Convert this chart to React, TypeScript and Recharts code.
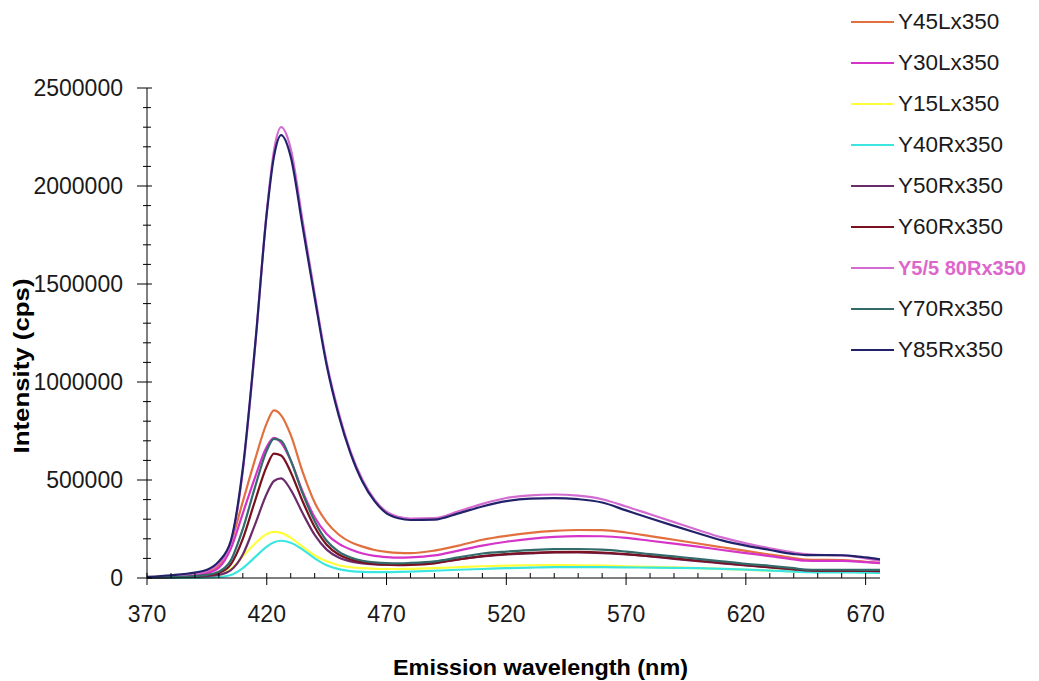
import React from "react";
import { LineChart, Line, XAxis, YAxis } from "recharts";

// emission wavelength (nm), finer steps around the 425 nm peak
const wavelengths = [
  370, 380, 390, 395, 400, 405, 410, 415, 420, 423, 426, 430, 435, 440, 445,
  450, 455, 460, 465, 470, 475, 480, 490, 500, 510, 520, 530, 540, 550, 560,
  570, 580, 590, 600, 610, 620, 630, 640, 645, 650, 655, 660, 665, 670, 676,
];

const y45L = [
  3000, 7000, 16000, 28000, 62000, 180000, 390000, 600000, 790000, 855000, 830000, 730000, 540000, 385000, 285000,
  222000, 183000, 160000, 143000, 133000, 128000, 127000, 140000, 165000, 195000, 215000, 230000, 240000, 245000, 244000,
  232000, 214000, 195000, 176000, 157000, 138000, 120000, 102000, 94000, 92000, 92000, 91000, 88000, 83000, 77000,
];
const y30L = [
  3000, 6000, 14000, 24000, 52000, 150000, 330000, 510000, 670000, 715000, 690000, 600000, 440000, 310000, 225000,
  175000, 145000, 125000, 113000, 107000, 104000, 105000, 115000, 140000, 165000, 185000, 200000, 210000, 214000, 213000,
  205000, 190000, 175000, 160000, 143000, 127000, 112000, 95000, 88000, 87000, 87000, 87000, 85000, 81000, 76000,
];
const y15L = [
  1000, 2000, 4000, 6000, 14000, 45000, 110000, 175000, 225000, 235000, 230000, 205000, 160000, 115000, 85000,
  65000, 55000, 50000, 47000, 46000, 46000, 47000, 50000, 55000, 60000, 63000, 65000, 66000, 65000, 63000,
  60000, 57000, 54000, 50000, 46000, 42000, 38000, 34000, 32000, 31000, 31000, 31000, 31000, 30000, 29000,
];
const y40R = [
  0, 1000, 2000, 3000, 5000, 15000, 50000, 105000, 160000, 182000, 190000, 180000, 145000, 100000, 65000,
  45000, 35000, 31000, 30000, 30000, 31000, 33000, 37000, 42000, 46000, 50000, 53000, 55000, 55000, 55000,
  54000, 53000, 52000, 50000, 47000, 43000, 38000, 33000, 30000, 28000, 28000, 28000, 28000, 27000, 26000,
];
const y50R = [
  2000, 4000, 7000, 10000, 16000, 40000, 120000, 270000, 430000, 495000, 508000, 450000, 330000, 220000, 145000,
  105000, 85000, 75000, 70000, 68000, 68000, 70000, 78000, 95000, 110000, 120000, 126000, 130000, 130000, 127000,
  120000, 110000, 98000, 86000, 75000, 64000, 54000, 44000, 39000, 37000, 37000, 37000, 37000, 36000, 35000,
];
const y60R = [
  2000, 4000, 9000, 14000, 26000, 70000, 200000, 390000, 570000, 635000, 625000, 540000, 390000, 260000, 170000,
  120000, 95000, 80000, 72000, 68000, 66000, 67000, 75000, 95000, 112000, 122000, 128000, 132000, 133000, 130000,
  122000, 112000, 100000, 88000, 77000, 65000, 55000, 45000, 40000, 38000, 38000, 38000, 38000, 37000, 36000,
];
const y5580R = [
  4000, 10000, 22000, 36000, 75000, 180000, 545000, 1160000, 1870000, 2180000, 2300000, 2190000, 1820000, 1450000, 1100000,
  845000, 645000, 500000, 400000, 338000, 312000, 303000, 305000, 340000, 378000, 408000, 422000, 426000, 420000, 402000,
  365000, 325000, 285000, 245000, 207000, 177000, 152000, 130000, 122000, 118000, 117000, 115000, 110000, 100000, 88000,
];
const y70R = [
  2000, 5000, 10000, 16000, 32000, 90000, 250000, 460000, 650000, 710000, 700000, 600000, 430000, 290000, 190000,
  135000, 105000, 88000, 80000, 76000, 75000, 77000, 85000, 105000, 125000, 135000, 142000, 147000, 148000, 145000,
  135000, 122000, 110000, 98000, 85000, 72000, 62000, 50000, 43000, 42000, 42000, 42000, 42000, 41000, 41000,
];
const y85R = [
  6000, 14000, 28000, 42000, 85000, 190000, 560000, 1170000, 1860000, 2150000, 2260000, 2150000, 1790000, 1430000, 1085000,
  830000, 635000, 490000, 392000, 330000, 305000, 296000, 298000, 330000, 365000, 392000, 405000, 408000, 402000, 385000,
  345000, 305000, 266000, 228000, 192000, 165000, 143000, 122000, 117000, 117000, 117000, 116000, 112000, 105000, 95000,
];

const seriesNames = [
  "Y45Lx350", "Y30Lx350", "Y15Lx350", "Y40Rx350", "Y50Rx350",
  "Y60Rx350", "Y5/5 80Rx350", "Y70Rx350", "Y85Rx350",
];
const seriesColors = [
  "#E2703E", "#D633C8", "#FFFF3A", "#3CE6E0", "#6B2C6B",
  "#7A1020", "#D46BD0", "#336B6B", "#22226B",
];
const seriesValues = [y45L, y30L, y15L, y40R, y50R, y60R, y5580R, y70R, y85R];

const xTicks = [
  370, 380, 390, 400, 410, 420, 430, 440, 450, 460, 470, 480, 490, 500, 510, 520,
  530, 540, 550, 560, 570, 580, 590, 600, 610, 620, 630, 640, 650, 660, 670,
];
const xMajorTicks = [370, 420, 470, 520, 570, 620, 670];
const yMajorTicks = [0, 500000, 1000000, 1500000, 2000000, 2500000];
const yTicks = [
  0, 100000, 200000, 300000, 400000, 500000, 600000, 700000, 800000, 900000,
  1000000, 1100000, 1200000, 1300000, 1400000, 1500000, 1600000, 1700000, 1800000, 1900000,
  2000000, 2100000, 2200000, 2300000, 2400000, 2500000,
];

const rows = wavelengths.map((wl, i) => {
  const row: Record<string, number> = { wl };
  seriesValues.forEach((vals, s) => {
    row["s" + s] = vals[i];
  });
  return row;
});

const FONT = "'Liberation Sans', Arial, sans-serif";
const INK = "#1a1a1a";

function XTick({ x, y, payload }: any) {
  const major = xMajorTicks.includes(payload.value);
  return (
    <g>
      <line x1={x} x2={x} y1={y - 5} y2={y + (major ? 7 : 0)} stroke="#000" />
      {major && (
        <text x={x} y={y + 44} textAnchor="middle" fontSize={23} fill={INK} fontFamily={FONT}>
          {payload.value}
        </text>
      )}
    </g>
  );
}

function YTick({ x, y, payload }: any) {
  const major = yMajorTicks.includes(payload.value);
  return (
    <g>
      <line x1={x - (major ? 10 : 4)} x2={x + (major ? 5 : 4)} y1={y} y2={y} stroke="#000" />
      {major && (
        <text x={x - 24} y={y} dy="0.36em" textAnchor="end" fontSize={23} fill={INK} fontFamily={FONT}>
          {payload.value}
        </text>
      )}
    </g>
  );
}

function XTitle({ viewBox }: any) {
  return (
    <text
      x={viewBox.x + viewBox.width / 2 + 27}
      y={675}
      textAnchor="middle"
      fontSize={22}
      fontWeight="bold"
      fill="#000"
      fontFamily={FONT}
      textLength={295}
      lengthAdjust="spacingAndGlyphs"
    >
      Emission wavelength (nm)
    </text>
  );
}

function YTitle() {
  return (
    <text
      x={0}
      y={0}
      transform="translate(29, 366) rotate(-90)"
      textAnchor="middle"
      fontSize={22}
      fontWeight="bold"
      fill="#000"
      fontFamily={FONT}
      textLength={175}
      lengthAdjust="spacingAndGlyphs"
    >
      Intensity (cps)
    </text>
  );
}

function SideLegend() {
  return (
    <div style={{ position: "absolute", left: 0, top: 0, pointerEvents: "none" }}>
      {seriesNames.map((name, i) => {
        const cy = 22 + i * 41;
        const special = name === "Y5/5 80Rx350";
        return (
          <div key={name}>
            <div
              style={{
                position: "absolute",
                left: 851,
                top: cy - 1,
                width: 43,
                height: 2,
                background: seriesColors[i],
              }}
            />
            <div
              style={{
                position: "absolute",
                left: 898,
                top: cy - 13,
                fontFamily: FONT,
                fontSize: special ? 20 : 22.5,
                lineHeight: "26px",
                whiteSpace: "nowrap",
                color: special ? "#DD66CC" : INK,
                fontWeight: special ? "bold" : "normal",
              }}
            >
              {name}
            </div>
          </div>
        );
      })}
    </div>
  );
}

export default function App() {
  return (
    <div style={{ position: "absolute", left: 0, top: 0, width: 1039, height: 681, background: "#fff", overflow: "hidden" }}>
      <LineChart width={1039} height={681} data={rows} margin={{ top: 88, right: 159, bottom: 0, left: 0 }}>
        <XAxis
          dataKey="wl"
          type="number"
          domain={[370, 676]}
          ticks={xTicks}
          interval={0}
          tickSize={0}
          tickMargin={0}
          tick={<XTick />}
          height={103}
          axisLine={{ stroke: "#000" }}
          label={<XTitle />}
        />
        <YAxis
          type="number"
          domain={[0, 2500000]}
          ticks={yTicks}
          interval={0}
          tickSize={0}
          tickMargin={0}
          tick={<YTick />}
          width={147}
          axisLine={{ stroke: "#000" }}
          label={<YTitle />}
        />
        {seriesNames.map((name, i) => (
          <Line
            key={name}
            dataKey={"s" + i}
            name={name}
            type="monotone"
            stroke={seriesColors[i]}
            strokeWidth={2.2}
            dot={false}
            activeDot={false}
            isAnimationActive={false}
          />
        ))}
      </LineChart>
      <SideLegend />
    </div>
  );
}
